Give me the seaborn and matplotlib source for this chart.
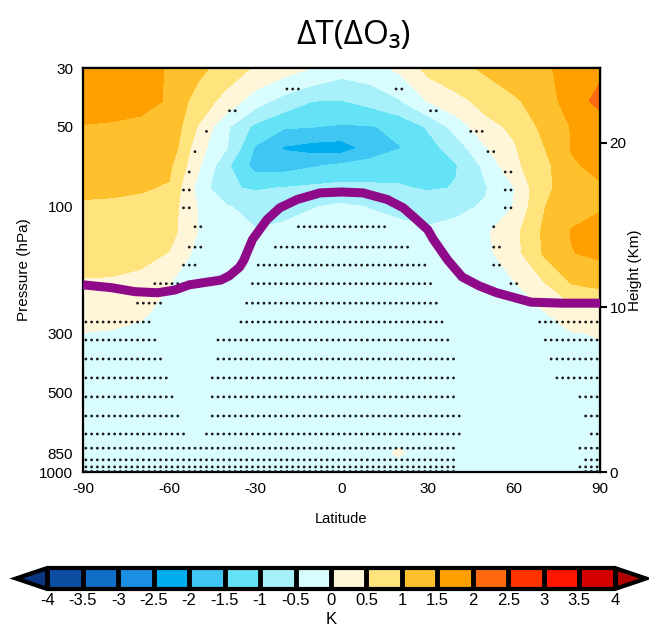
import numpy as np
import pandas as pd
import matplotlib
matplotlib.use("Agg")
import matplotlib.pyplot as plt
import seaborn as sns
from matplotlib.colors import ListedColormap, BoundaryNorm
from matplotlib.ticker import NullLocator, FixedLocator

# ---------------- data ----------------
lats = [-90, -80, -70, -60, -50, -40, -30, -20, -10, 0, 10, 20, 30, 40, 50, 60, 70, 80, 90]
plev = [30, 40, 50, 60, 70, 85, 100, 125, 150, 200, 250, 300, 400, 500, 700, 850, 925, 1000]

dT_30 = [1.85, 1.8, 1.7, 1.45, 1.15, 0.75, 0.45, 0.22, -0.02, -0.3, -0.2, 0.1, 0.65, 0.85, 1.08, 1.25, 1.42, 1.65, 1.9]
dT_40 = [1.75, 1.68, 1.6, 1.47, 0.76, 0.33, -0.27, -0.7, -1.0, -1.02, -0.85, -0.55, 0.02, 0.35, 0.65, 0.93, 1.2, 1.75, 2.15]
dT_50 = [1.47, 1.45, 1.42, 1.39, 0.48, -0.43, -1.13, -1.45, -1.49, -1.56, -1.53, -1.4, -0.95, -0.3, 0.35, 0.58, 1.1, 1.52, 1.7]
dT_60 = [1.3, 1.3, 1.3, 1.34, 0.2, -0.47, -1.55, -2.05, -2.2, -2.25, -1.8, -1.52, -1.2, -0.75, -0.05, 0.45, 0.95, 1.52, 1.65]
dT_70 = [1.25, 1.25, 1.2, 1.1, 0.1, -0.9, -1.7, -1.7, -1.55, -1.4, -1.3, -1.2, -1.15, -1.02, -0.39, 0.39, 0.8, 1.45, 1.6]
dT_85 = [1.15, 1.1, 1.05, 0.95, -0.175, -0.95, -1.05, -0.98, -0.9, -0.85, -0.9, -0.95, -1.05, -0.98, -0.55, -0.02, 0.91, 1.16, 1.45]
dT_100 = [0.9, 0.9, 0.85, 0.75, -0.02, -0.45, -0.7, -0.65, -0.52, -0.42, -0.52, -0.62, -0.7, -0.6, -0.45, 0.02, 0.95, 1.4, 1.47]
dT_125 = [0.85, 0.85, 0.8, 0.7, -0.02, -0.4, -0.45, -0.38, -0.3, -0.28, -0.3, -0.35, -0.42, -0.35, -0.08, 0.35, 1.05, 1.52, 1.62]
dT_150 = [0.8, 0.8, 0.72, 0.47, -0.15, -0.3, -0.3, -0.25, -0.2, -0.2, -0.22, -0.25, -0.28, -0.3, -0.12, 0.3, 1.02, 1.48, 1.6]
dT_200 = [0.38, 0.35, 0.22, -0.01, -0.2, -0.25, -0.22, -0.18, -0.15, -0.15, -0.15, -0.18, -0.2, -0.25, -0.25, -0.07, 0.35, 0.95, 1.05]
dT_250 = [0.3, 0.22, 0.08, -0.15, -0.2, -0.22, -0.2, -0.18, -0.15, -0.15, -0.15, -0.17, -0.2, -0.22, -0.22, -0.18, -0.03, 0.25, 0.35]
dT_300 = [-0.01, -0.05, -0.12, -0.18, -0.2, -0.2, -0.2, -0.18, -0.15, -0.15, -0.15, -0.17, -0.2, -0.2, -0.2, -0.18, -0.1, -0.02, 0.02]
dT_400 = [-0.12, -0.15, -0.18, -0.2, -0.2, -0.2, -0.2, -0.18, -0.15, -0.15, -0.15, -0.15, -0.18, -0.2, -0.2, -0.18, -0.15, -0.12, -0.1]
dT_500 = [-0.15, -0.15, -0.18, -0.2, -0.2, -0.2, -0.2, -0.18, -0.15, -0.15, -0.15, -0.15, -0.18, -0.2, -0.2, -0.18, -0.15, -0.15, -0.12]
dT_700 = [-0.15, -0.15, -0.18, -0.2, -0.2, -0.2, -0.2, -0.18, -0.15, -0.15, -0.15, -0.15, -0.18, -0.2, -0.2, -0.18, -0.15, -0.15, -0.12]
dT_850 = [-0.15, -0.15, -0.18, -0.2, -0.2, -0.2, -0.2, -0.18, -0.15, -0.15, -0.15, 0.05, -0.18, -0.2, -0.2, -0.18, -0.15, -0.15, -0.12]
dT_925 = [-0.15, -0.15, -0.18, -0.2, -0.2, -0.2, -0.2, -0.18, -0.15, -0.15, -0.15, -0.1, -0.18, -0.2, -0.2, -0.18, -0.15, -0.15, -0.12]
dT_1000 = [-0.15, -0.15, -0.18, -0.2, -0.2, -0.2, -0.2, -0.18, -0.15, -0.15, -0.15, -0.15, -0.18, -0.2, -0.2, -0.18, -0.15, -0.15, -0.12]

# tropopause
trop_lat = [-90, -80, -72, -64, -58, -53, -42, -39, -35.5, -34, -31, -26, -21.5, -15.5,
            -7.5, 0, 7.5, 16, 21.5, 25, 30, 32, 37, 42, 48, 54, 66, 77, 90]
trop_p = [197, 202, 209, 211, 206, 197, 189, 182, 169, 159, 133, 112, 101, 94,
          88.7, 88, 88.7, 94, 101, 109, 122, 133, 159, 184, 199, 211, 229, 231, 231]

# significance stippling: pressure rows and latitude ranges
sig_p = [36, 43.5, 52, 62, 74, 86.5, 101, 119, 142, 166, 195, 231, 272, 318, 375,
         442, 521, 615, 719, 813, 900, 957, 995]
sig_ranges = [
    [(-19, -15), (19, 21)],
    [(-39, -37), (31, 33)],
    [(-47, -47), (45, 49)],
    [(-51, -51), (51, 53)],
    [(-53, -53), (57, 59)],
    [(-55, -53), (57, 59)],
    [(-55, -53), (57, 59)],
    [(-51, -49), (-15, 15), (53, 53)],
    [(-53, -49), (-23, 23), (53, 55)],
    [(-55, -51), (-29, 29), (53, 55)],
    [(-65, -55), (-31, 31), (59, 61)],
    [(-71, -63), (-33, 33), (65, 71)],
    [(-89, -67), (-35, 35), (69, 89)],
    [(-89, -65), (-43, 37), (71, 89)],
    [(-89, -63), (-43, 39), (73, 89)],
    [(-89, -61), (-45, 39), (75, 89)],
    [(-89, -59), (-45, 39), (83, 89)],
    [(-89, -57), (-45, 41), (85, 89)],
    [(-89, -55), (-47, 41), (87, 89)],
    [(-89, 39), (83, 89)],
    [(-89, 39), (85, 89)],
    [(-89, 39), (83, 89)],
    [(-89, 39), (85, 89)],
]

levels = [-4, -3.5, -3, -2.5, -2, -1.5, -1, -0.5, 0, 0.5, 1, 1.5, 2, 2.5, 3, 3.5, 4]
tick_text = ["-4", "-3.5", "-3", "-2.5", "-2", "-1.5", "-1", "-0.5", "0",
             "0.5", "1", "1.5", "2", "2.5", "3", "3.5", "4"]
colors = ["#0b4ea2", "#0f6fc6", "#1a8fe3", "#00adef", "#3fc6f3", "#64e3f7", "#a9f1fa", "#d9fcff",
          "#fff6da", "#ffe47e", "#ffc02e", "#ffa000", "#ff6a10", "#ff3300", "#ff1500", "#d40000"]
under_color = "#0a3580"
over_color = "#b00000"

# ---------------- figure ----------------
sns.set_style("white")
plt.rcParams['font.family'] = ['Liberation Sans', 'DejaVu Sans']
plt.rcParams['text.color'] = 'black'
plt.rcParams['axes.labelcolor'] = 'black'
plt.rcParams['xtick.color'] = 'black'
plt.rcParams['ytick.color'] = 'black'

fig = plt.figure(figsize=(6.49, 6.30), dpi=100)
ax = fig.add_axes([83/649, 1-472/630, 517/649, 404/630])

field = np.array([dT_30, dT_40, dT_50, dT_60, dT_70, dT_85, dT_100, dT_125, dT_150, dT_200,
                  dT_250, dT_300, dT_400, dT_500, dT_700, dT_850, dT_925, dT_1000])

cmap = ListedColormap(colors)
cmap.set_under(under_color)
cmap.set_over(over_color)
norm = BoundaryNorm(levels, cmap.N)
cf = ax.contourf(lats, plev, field, levels=levels, cmap=cmap, norm=norm, extend='both')

# stippling
rows = []
grid = np.arange(-89, 90, 2)
for p, rngs in zip(sig_p, sig_ranges):
    for a, b in rngs:
        for la in grid[(grid >= a) & (grid <= b)]:
            rows.append((la, p))
dots = pd.DataFrame(rows, columns=["lat", "p"])
sns.scatterplot(data=dots, x="lat", y="p", ax=ax, s=4, color="#1a1a1a",
                edgecolor="none", linewidth=0, zorder=3)

# tropopause
trop = pd.DataFrame({"lat": trop_lat, "p": trop_p})
sns.lineplot(data=trop, x="lat", y="p", ax=ax, sort=False, estimator=None,
             color="#8e0a88", linewidth=6.5, solid_capstyle='butt',
             solid_joinstyle='round', zorder=4)

ax.set_yscale('log')
ax.set_xlim(-90, 90)
ax.set_ylim(1000, 30)
ax.set_yticks([30, 50, 100, 300, 500, 850, 1000])
ax.set_yticklabels(["30", "50", "100", "300", "500", "850", "1000"])
ax.yaxis.set_minor_locator(NullLocator())
ax.set_xticks([-90, -60, -30, 0, 30, 60, 90])
ax.set_xticklabels(["-90", "-60", "-30", "0", "30", "60", "90"])
ax.tick_params(axis='both', which='major', direction='out', length=5, width=1.5,
               labelsize=11, pad=2, colors='black')
ax.tick_params(axis='y', right=False)
ax.set_xlabel("Latitude", fontsize=10.5, labelpad=12)
ax.set_ylabel("Pressure (hPa)", fontsize=11, labelpad=6)
for s in ax.spines.values():
    s.set_linewidth(1.6)
    s.set_color('black')
    s.set_visible(True)

# top ticks inward
topax = ax.secondary_xaxis('top')
topax.set_xticks([-90, -60, -30, 0, 30, 60, 90])
topax.tick_params(direction='in', length=5, width=1.5, labeltop=False, colors='black')
topax.spines['top'].set_linewidth(1.6)

# right height axis
def p2z(p):
    p = np.clip(np.asarray(p, dtype=float), 1e-6, None)
    return 7.0 * np.log(1000.0 / p)

def z2p(z):
    return 1000.0 * np.exp(-np.asarray(z, dtype=float) / 7.0)

rax = ax.secondary_yaxis('right', functions=(p2z, z2p))
rax.yaxis.set_major_locator(FixedLocator([0, 10, 20]))
rax.yaxis.set_minor_locator(NullLocator())
rax.set_yticklabels(["0", "10", "20"])
rax.tick_params(direction='out', length=5, width=1.5, labelsize=11, pad=2, colors='black')
rax.spines['right'].set_linewidth(1.6)
rax.set_ylabel("Height (Km)", fontsize=11, labelpad=1, color='black')

# title
fig.text(0.545, 0.944, "ΔT(ΔO₃)", ha='center', va='center', fontsize=24,
         color='black', family=['Open Sans', 'DejaVu Sans'])

# colorbar
cax = fig.add_axes([16/649, 1-589/630, 630/649, 21/630])
cb = fig.colorbar(cf, cax=cax, orientation='horizontal', extend='both',
                  extendfrac=0.055, drawedges=True, ticks=levels)
cb.outline.set_linewidth(3)
cb.outline.set_edgecolor('black')
cb.dividers.set_linewidth(3.5)
cb.dividers.set_color('black')
cb.ax.set_xticklabels(tick_text)
cb.ax.tick_params(length=0, labelsize=12, pad=3, colors='black')
cb.ax.minorticks_off()
cb.set_label("K", fontsize=12, labelpad=3, color='black')

fig.savefig("out.png", dpi=100)
